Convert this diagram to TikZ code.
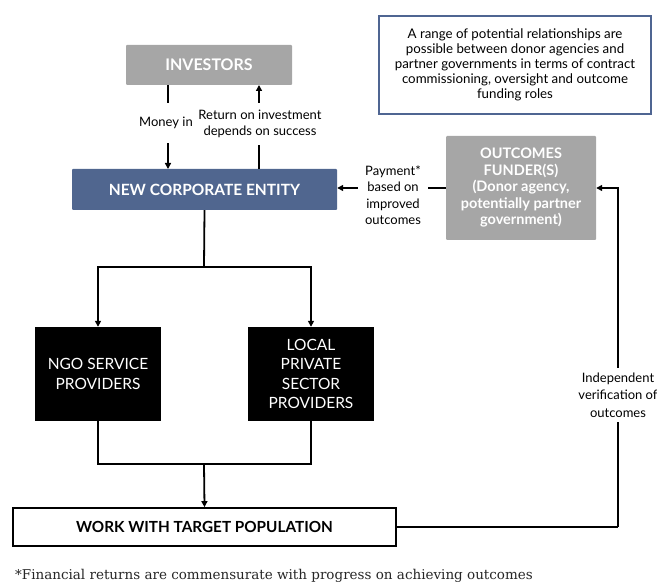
\documentclass[tikz,border=0pt]{standalone}
\usepackage{fontspec}
\setmainfont{Lato}
\newfontfamily\footfont{DejaVu Serif}
\usetikzlibrary{arrows.meta}
\definecolor{boxgray}{HTML}{A6A6A6}
\definecolor{entblue}{HTML}{50668F}
\definecolor{noteblue}{HTML}{4F6592}
\tikzset{
  conn/.style={line width=1.8pt, draw=black},
  arr/.style={conn, -{Triangle[length=6pt,width=6pt]}},
  graybox/.style={fill=boxgray, draw=none, rounded corners=1pt, text=white, font=\bfseries\fontsize{14.5}{16.5}\selectfont, align=center, inner sep=0pt},
  blackbox/.style={fill=black, draw=none, text=white, font=\fontsize{15.5}{19.5}\selectfont, align=center, inner sep=0pt, minimum width=126pt, minimum height=94pt},
  lbl/.style={fill=white, text=black, font=\fontsize{13}{16.5}\selectfont, align=center, inner sep=0pt}
}
\begin{document}
\begin{tikzpicture}[x=1pt,y=-1pt]
\useasboundingbox (0,0) rectangle (657,583);
% nodes
\node[graybox, minimum width=166pt, minimum height=40pt, font=\bfseries\fontsize{16}{18}\selectfont] (inv) at (209,65) {INVESTORS};
\node[fill=entblue, rounded corners=1pt, text=white, font=\bfseries\fontsize{15.5}{18}\selectfont, minimum width=265pt, minimum height=41pt, inner sep=0pt] (ent) at (204.5,189.5) {NEW CORPORATE ENTITY};
\node[graybox, minimum width=150pt, minimum height=104pt] (fund) at (521,188) {OUTCOMES\\FUNDER(S)\\(Donor agency,\\potentially partner\\government)};
\node[draw=noteblue, line width=1.6pt, fill=white, minimum width=272pt, minimum height=98pt, inner sep=0pt, align=center, font=\fontsize{13.3}{15}\selectfont] (note) at (515,65) {A range of potential relationships are\\possible between donor agencies and\\partner governments in terms of contract\\commissioning, oversight and outcome\\funding roles};
\node[blackbox] (ngo) at (98,374) {NGO SERVICE\\PROVIDERS};
\node[blackbox] (loc) at (311,374) {LOCAL\\PRIVATE\\SECTOR\\PROVIDERS};
\node[draw=black, line width=1.8pt, fill=white, minimum width=383pt, minimum height=38pt, inner sep=0pt, font=\bfseries\fontsize{15.3}{18}\selectfont] (work) at (204.5,527) {WORK WITH TARGET POPULATION};
\node[anchor=base west, inner sep=0pt, font=\footfont\fontsize{13.5}{15}\selectfont, text=black!85] (foot) at (15,579) {*Financial returns are commensurate with progress on achieving outcomes};
% coordinates
\coordinate (inA) at (168,85);
\coordinate (inB) at (168,169);
\coordinate (retA) at (259,169);
\coordinate (retB) at (259,85);
\coordinate (split) at (204,267);
\coordinate (join) at (204,464);
\coordinate (rt) at (618,527);
\coordinate (rtTop) at (618,188);
% connectors
\draw[arr] (inA) -- (inB);
\draw[arr] (retA) -- (retB);
\draw[arr] (fund.west) -- (fund.west -| ent.east);
\draw[conn] (ent.south) -- (split);
\draw[arr] (split) -| (ngo.north);
\draw[arr] (split) -| (loc.north);
\draw[conn] (ngo.south) |- (join);
\draw[conn] (loc.south) |- (join);
\draw[arr] (join) -- (work.north);
\draw[conn] (work.east) -- (rt);
\draw[arr] (rt) -- (rtTop) -- (fund.east);
% labels
\node[lbl, minimum height=40pt, inner xsep=2pt] (money) at (166,123) {Money in};
\node[lbl, minimum height=42pt, inner xsep=3pt] (ret) at (260,124) {Return on investment\\depends on success};
\node[lbl, minimum width=70pt] (pay) at (393,195) {Payment*\\based on\\improved\\outcomes};
\node[lbl, minimum height=54pt, font=\fontsize{13}{17.5}\selectfont] (ind) at (618,395) {Independent\\verification of\\outcomes};
\end{tikzpicture}
\end{document}
